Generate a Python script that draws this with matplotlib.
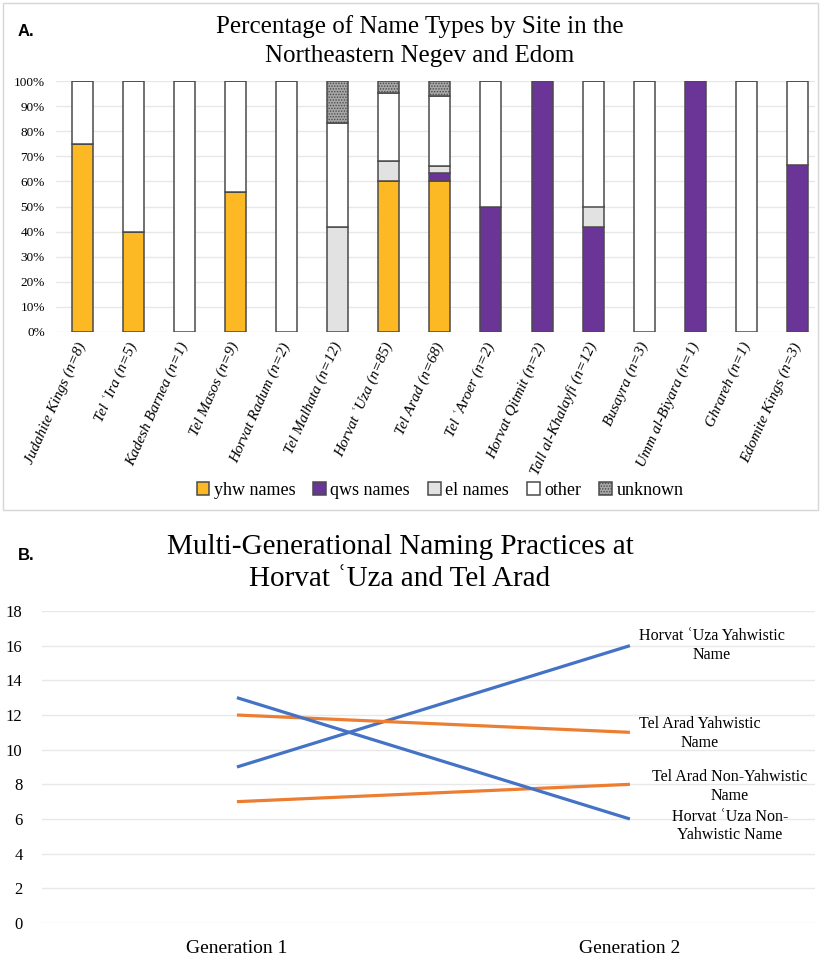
import matplotlib
matplotlib.use("Agg")
import matplotlib.pyplot as plt
import matplotlib.patches as patches
import numpy as np

plt.rcParams["font.family"] = ["Liberation Serif", "DejaVu Serif"]
plt.rcParams["hatch.linewidth"] = 0.7

# ---- data: panel A (percent of names per site) ----
sites = [
    "Judahite Kings (n=8)", "Tel \u02bfIra (n=5)", "Kadesh Barnea (n=1)",
    "Tel Masos (n=9)", "Horvat Radum (n=2)", "Tel Malhata (n=12)",
    "Horvat \u02bfUza (n=85)", "Tel Arad (n=68)", "Tel \u02bfAroer (n=2)",
    "Horvat Qitmit (n=2)", "Tall al-Khalayfi (n=12)", "Busayra (n=3)",
    "Umm al-Biyara (n=1)", "Ghrareh (n=1)", "Edomite Kings (n=3)",
]
yhw_pct = [75.0, 40.0, 0, 55.6, 0, 0, 60.0, 60.3, 0, 0, 0, 0, 0, 0, 0]
qws_pct = [0, 0, 0, 0, 0, 0, 0, 2.9, 50.0, 100.0, 41.7, 0, 100.0, 0, 66.7]
el_pct = [0, 0, 0, 0, 0, 41.7, 8.2, 2.9, 0, 0, 8.3, 0, 0, 0, 0]
other_pct = [25.0, 60.0, 100.0, 44.4, 100.0, 41.7, 27.1, 27.9, 50.0, 0, 50.0, 100.0, 0, 100.0, 33.3]
unknown_pct = [0, 0, 0, 0, 0, 16.6, 4.7, 6.0, 0, 0, 0, 0, 0, 0, 0]

# ---- data: panel B (names per generation) ----
generations = ["Generation 1", "Generation 2"]
uza_yahw = [9, 16]
uza_non = [13, 6]
arad_yahw = [12, 11]
arad_non = [7, 8]

W, H = 821, 959
fig = plt.figure(figsize=(W / 100, H / 100), dpi=100)


def fx(px):
    return px / W


def fy(py):
    return 1 - py / H


# panel A frame
fig.patches.append(patches.Rectangle((fx(3), fy(510)), fx(815), 507 / H,
                                     transform=fig.transFigure, fill=False,
                                     edgecolor="#d6d6d6", lw=1.0))

fig.text(fx(18), fy(32), "A.", family="Liberation Sans", weight="bold",
         fontsize=12, ha="left", va="center")
fig.text(fx(420), fy(41), "Percentage of Name Types by Site in the\nNortheastern Negev and Edom",
         fontsize=18, ha="center", va="center", linespacing=1.45)

ax1 = fig.add_axes([fx(56), fy(332), fx(815) - fx(56), (332 - 81) / H])
x = np.arange(len(sites))
series = [
    ("yhw names", yhw_pct, "#FDB924", None),
    ("qws names", qws_pct, "#6A3597", None),
    ("el names", el_pct, "#E2E2E2", None),
    ("other", other_pct, "white", None),
    ("unknown", unknown_pct, "#a8a8a8", "......"),
]
bottom = np.zeros(len(sites))
for name, vals, col, hatch in series:
    vals = np.array(vals) / 100.0
    ax1.bar(x, vals, 0.41, bottom=bottom, color=col, edgecolor="#4a4a4a",
            linewidth=1.1, hatch=hatch, label=name, zorder=3)
    bottom += vals

ax1.set_xlim(-0.51, 14.34)
ax1.set_ylim(0, 1)
ax1.set_yticks(np.arange(0, 1.01, 0.1))
ax1.set_yticklabels([f"{int(round(v * 100))}%" for v in np.arange(0, 1.01, 0.1)], fontsize=9.5)
ax1.grid(axis="y", color="#e8e8e8", lw=1.0, zorder=0)
ax1.set_xticks(x)
ax1.set_xticklabels(sites, rotation=66, ha="right", va="center",
                    rotation_mode="anchor", fontsize=11, style="italic")
ax1.tick_params(length=0, pad=8)
for s in ax1.spines.values():
    s.set_visible(False)

ax1.legend(loc="center", bbox_to_anchor=(fx(440), fy(490)), bbox_transform=fig.transFigure,
           ncol=5, frameon=False, fontsize=13, handlelength=0.7, handleheight=0.7,
           handletextpad=0.25, columnspacing=1.0, borderaxespad=0)

# panel B
fig.text(fx(18), fy(556), "B.", family="Liberation Sans", weight="bold",
         fontsize=12, ha="left", va="center")
fig.text(fx(400), fy(563), "Multi-Generational Naming Practices at\nHorvat \u02bfUza and Tel Arad",
         fontsize=21, ha="center", va="center", linespacing=1.3)

ax2 = fig.add_axes([fx(42), fy(923), fx(815) - fx(42), (923 - 611) / H])
gx = np.arange(len(generations))
blue, orange = "#4472C4", "#ED7D31"
lines = [
    (uza_yahw, blue, "Horvat \u02bfUza Yahwistic\nName", (82, 0)),
    (arad_yahw, orange, "Tel Arad Yahwistic\nName", (70, -1)),
    (arad_non, orange, "Tel Arad Non-Yahwistic\nName", (100, -2)),
    (uza_non, blue, "Horvat \u02bfUza Non-\nYahwistic Name", (100, -7)),
]
for vals, col, lab, off in lines:
    ax2.plot(gx, vals, color=col, lw=2.3, solid_capstyle="butt", zorder=3)
    ax2.annotate(lab, xy=(gx[-1], vals[-1]), xytext=(off[0] * 0.72, off[1] * 0.72),
                 textcoords="offset points", ha="center", va="center",
                 fontsize=11.5, multialignment="center")

ax2.set_xlim(-0.496, 1.471)
ax2.set_ylim(0, 18)
ax2.set_yticks(np.arange(0, 19, 2))
ax2.tick_params(axis="y", labelsize=12, length=0, pad=14)
ax2.set_xticks(gx)
ax2.set_xticklabels(generations, fontsize=14)
ax2.tick_params(axis="x", length=0, pad=12)
ax2.grid(axis="y", color="#e8e8e8", lw=1.0, zorder=0)
for s in ax2.spines.values():
    s.set_visible(False)

fig.savefig("out.png", dpi=100)
